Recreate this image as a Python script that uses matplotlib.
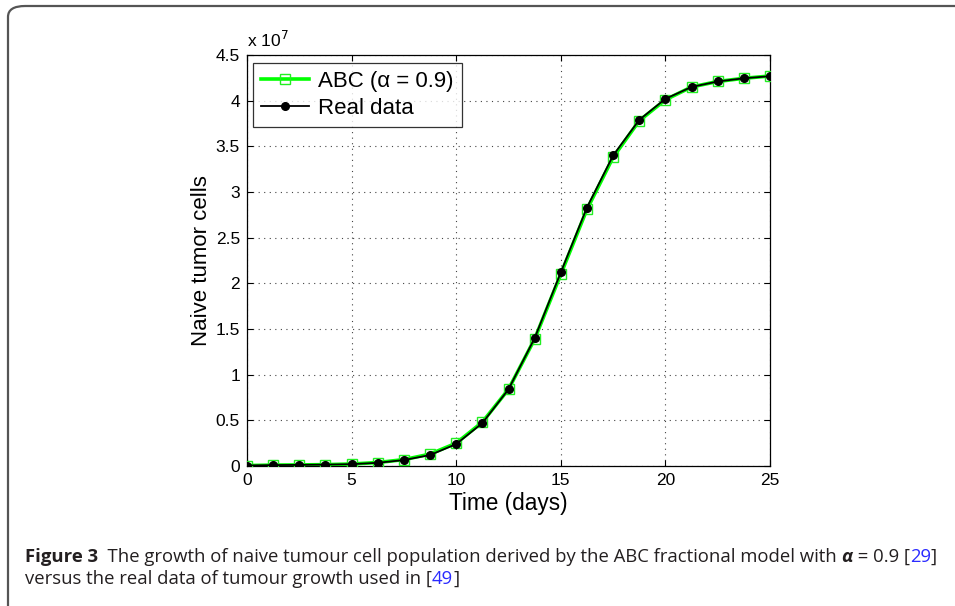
import matplotlib
matplotlib.use("Agg")
import matplotlib.pyplot as plt
from matplotlib.patches import FancyBboxPatch
import numpy as np

# ---- data ----
days = [0, 1.25, 2.5, 3.75, 5, 6.25, 7.5, 8.75, 10, 11.25, 12.5, 13.75,
        15, 16.25, 17.5, 18.75, 20, 21.25, 22.5, 23.75, 25]
real_data = [0.005, 0.01, 0.012, 0.015, 0.02, 0.035, 0.065, 0.12, 0.24, 0.47,
             0.84, 1.40, 2.12, 2.83, 3.40, 3.79, 4.02, 4.15, 4.21, 4.245, 4.268]
abc_model = [0.005, 0.01, 0.012, 0.015, 0.022, 0.038, 0.07, 0.13, 0.25, 0.48,
             0.84, 1.39, 2.10, 2.81, 3.38, 3.78, 4.01, 4.15, 4.21, 4.245, 4.27]
scale = 1e7
xticks = [0, 5, 10, 15, 20, 25]
yticks = [0, 0.5, 1, 1.5, 2, 2.5, 3, 3.5, 4, 4.5]
ytick_labels = ["0", "0.5", "1", "1.5", "2", "2.5", "3", "3.5", "4", "4.5"]

W, H = 955, 606
fig = plt.figure(figsize=(W / 100, H / 100), dpi=100)
plt.rcParams['font.family'] = ['Liberation Sans', 'DejaVu Sans']

# rounded frame around the figure
frame = FancyBboxPatch((8 / W, -20 / H), 1.2, (H - 6 + 20) / H,
                       boxstyle="round,pad=0,rounding_size=0.018",
                       transform=fig.transFigure, fill=False,
                       edgecolor="#555555", linewidth=1.6, clip_on=False)
fig.patches.append(frame)

ax = fig.add_axes([247 / W, 1 - 466 / H, (770 - 247) / W, (466 - 55) / H])

yvals_abc = np.array(abc_model) * scale
yvals_real = np.array(real_data) * scale

ax.plot(days, yvals_abc, color="#00ff00", linewidth=2.6, marker="s",
        markersize=7.5, markerfacecolor="none", markeredgecolor="#22ee22",
        markeredgewidth=1.0, label="ABC (α = 0.9)", zorder=3)
ax.plot(days, yvals_real, color="black", linewidth=1.3, marker="o",
        markersize=5.5, markerfacecolor="black", markeredgecolor="black",
        label="Real data", zorder=4)

ax.set_xlim(0, 25)
ax.set_ylim(0, 4.5 * scale)
ax.set_xticks(xticks)
ax.set_xticklabels([str(t) for t in xticks], fontsize=12.5)
ax.set_yticks([t * scale for t in yticks])
ax.set_yticklabels(ytick_labels, fontsize=12.5)
ax.tick_params(direction="in", top=True, right=True, length=4, width=0.8,
               pad=5)
ax.grid(True, linestyle=(0, (1, 4)), color="#444444", linewidth=0.8)
for s in ax.spines.values():
    s.set_linewidth(0.9)

ax.set_xlabel("Time (days)", fontsize=16.3, labelpad=3)
ax.set_ylabel("Naive tumor cells", fontsize=16, labelpad=3)

ax.text(0.0, 1.012, "x 10$^{7}$", transform=ax.transAxes, fontsize=12.5,
        ha="left", va="bottom")

leg = ax.legend(loc="upper left", fontsize=16, frameon=True, fancybox=False,
                edgecolor="black", handlelength=2.2, borderpad=0.35,
                labelspacing=0.3, handletextpad=0.4, borderaxespad=0,
                bbox_to_anchor=(0.011, 0.981))
leg.get_frame().set_linewidth(0.9)

# caption
cap_font = ['Liberation Sans Narrow', 'Open Sans', 'DejaVu Sans']
dark = "#231f20"
blue = "#2b2bff"
line1 = [("Figure 3", "bold", "normal", dark),
         ("  The growth of naive tumour cell population derived by the ABC fractional model with ", "normal", "normal", dark),
         ("α", "bold", "italic", dark),
         (" = 0.9 [", "normal", "normal", dark),
         ("29", "normal", "normal", blue),
         ("]", "normal", "normal", dark)]
line2 = [("versus the real data of tumour growth used in [", "normal", "normal", dark),
         ("49", "normal", "normal", blue),
         ("]", "normal", "normal", dark)]

fig.canvas.draw()
renderer = fig.canvas.get_renderer()


def draw_line(pieces, x0, ybase, fs, keep=True):
    x = x0
    made = []
    for txt, wt, st, col in pieces:
        t = fig.text(x / W, 1 - ybase / H, txt, fontsize=fs, fontweight=wt,
                     fontstyle=st, color=col, family=cap_font,
                     ha="left", va="baseline")
        bb = t.get_window_extent(renderer=renderer)
        x += bb.width
        made.append(t)
    if not keep:
        for t in made:
            t.remove()
    return x - x0


base = 12.0
wtest = draw_line(line1, 25, 562, base, keep=False)
fs = min(14.0, base * 908.0 / wtest)
draw_line(line1, 25, 562, fs)
draw_line(line2, 25, 584, fs)

fig.savefig("out.png", dpi=100)
